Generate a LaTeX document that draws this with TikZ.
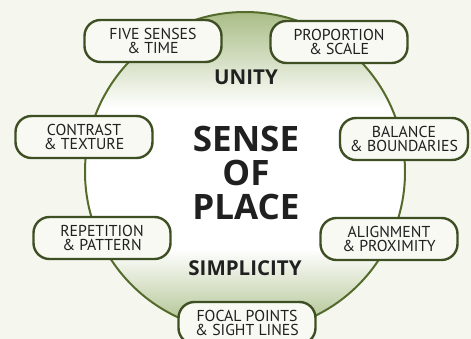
\documentclass[tikz,border=0pt]{standalone}
\usepackage{fontspec}
\setmainfont{PT Sans}
\newfontfamily\placebold{Open Sans}

\definecolor{placebg}{HTML}{F5F7EF}
\definecolor{placebox}{HTML}{F7F9F2}
\definecolor{placegreen}{HTML}{A9BD86}
\definecolor{placeline}{HTML}{556B2C}
\definecolor{placeborder}{HTML}{3F4F24}
\definecolor{placetext}{HTML}{202020}

\pgfdeclareverticalshading{placeshade}{100bp}{%
  color(0bp)=(placegreen); color(25bp)=(placegreen);
  color(38bp)=(white); color(60bp)=(white);
  color(75bp)=(placegreen); color(100bp)=(placegreen)}

\begin{document}
\begin{tikzpicture}[
  x=1pt,
  y=-1pt,
  line join=round,
  principle/.style={draw=placeborder,line width=2.4pt,fill=placebox,
    rounded corners=16pt,minimum width=137pt,minimum height=42pt,
    inner xsep=8pt,align=center,text=placetext,
    font=\fontsize{15.8}{14.8}\selectfont},
  keyword/.style={text=placetext,font=\placebold\bfseries\fontsize{20.5}{20}\selectfont},
  headline/.style={text=placetext,align=center,
    font=\placebold\bfseries\fontsize{35}{34}\selectfont}
]
  % Paper tone and frame of the scanned artwork.
  \fill[placebg] (0,0) rectangle (471,339);
  \useasboundingbox (0,0) rectangle (471,339);

  % Big shaded circle behind everything.
  \coordinate (hub) at (245,172);
  \path[shading=placeshade,draw=placeline,line width=2pt] (hub) circle[radius=160pt];

  % Centre words.
  \node[keyword] (unity) at (246,77) {UNITY};
  \node[headline] (senseOfPlace) at (246,173) {SENSE\\OF\\PLACE};
  \node[keyword] (simplicity) at (245,268) {SIMPLICITY};

  % Principles sitting on the rim.
  \node[principle] (fiveSenses) at (153,41) {FIVE SENSES\\\& TIME};
  \node[principle] (proportion) at (339,42) {PROPORTION\\\& SCALE};
  \node[principle] (contrast) at (84,137) {CONTRAST\\\& TEXTURE};
  \node[principle,minimum width=128pt] (balance) at (404,139) {BALANCE\\\& BOUNDARIES};
  \node[principle] (repetition) at (102,238) {REPETITION\\\& PATTERN};
  \node[principle] (alignment) at (389,239) {ALIGNMENT\\\& PROXIMITY};
  \node[principle] (focalPoints) at (247,323) {FOCAL POINTS\\\& SIGHT LINES};
\end{tikzpicture}
\end{document}
